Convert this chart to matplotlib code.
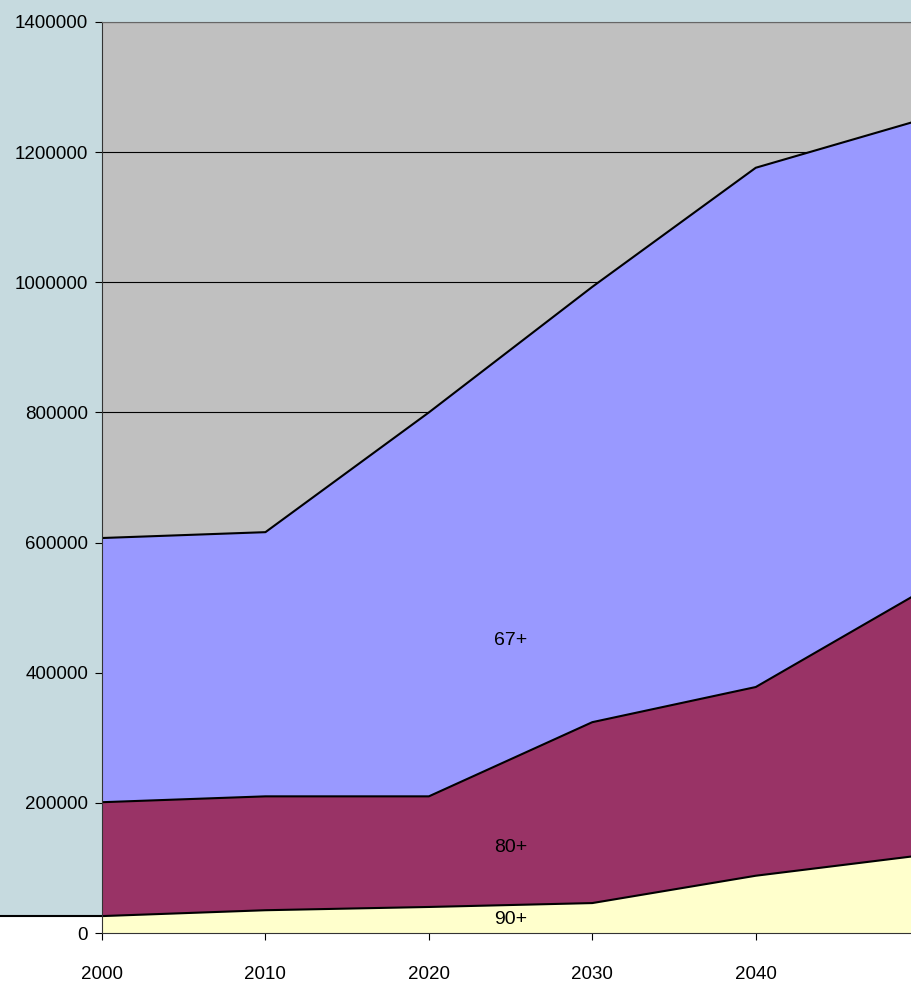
import matplotlib.pyplot as plt
from matplotlib.patches import Rectangle
from matplotlib.lines import Line2D
from matplotlib.ticker import FuncFormatter

# data
years = [2000, 2010, 2020, 2030, 2040, 2050]
age67 = [607000, 616000, 800000, 993000, 1176000, 1249000]
age80 = [201000, 210000, 210000, 324000, 378000, 523000]
age90 = [26000, 35000, 40000, 46000, 88000, 119000]
labels = ['67+', '80+', '90+']
label_y = [449000, 132000, 21000]

plt.rcParams['font.family'] = ['Liberation Sans', 'DejaVu Sans']
plt.rcParams['font.size'] = 13.5

fig = plt.figure(figsize=(9.11, 9.83), dpi=100)
fig.patch.set_facecolor('white')
bg_bottom = (983 - 916) / 983
fig.patches.append(Rectangle((0, bg_bottom), 1, 1 - bg_bottom, transform=fig.transFigure,
                             facecolor='#C6DADF', edgecolor='none', zorder=0))
fig.lines.append(Line2D([0, 0.115], [bg_bottom, bg_bottom], transform=fig.transFigure,
                        color='black', lw=1.5, zorder=1))

ax = fig.add_axes([102 / 911, 50 / 983, 1 - 102 / 911, 911 / 983])
ax.set_facecolor('#C0C0C0')
ax.set_zorder(2)

ax.fill_between(years, 0, age67, color='#9999FF', zorder=2)
ax.fill_between(years, 0, age80, color='#993366', zorder=3)
ax.fill_between(years, 0, age90, color='#FFFFCC', zorder=4)
for s in (age67, age80, age90):
    ax.plot(years, s, color='black', lw=1.5, zorder=5)

for t, y in zip(labels, label_y):
    ax.text(2025, y, t, ha='center', va='center', fontsize=14, zorder=6)

ax.set_xlim(2000, 2049.5)
ax.set_ylim(0, 1400000)
ax.set_yticks(range(0, 1400001, 200000))
ax.yaxis.set_major_formatter(FuncFormatter(lambda v, p: '%d' % v))
ax.set_xticks(years[:-1])
ax.yaxis.grid(True, color='black', lw=0.8)
ax.set_axisbelow(True)
ax.tick_params(axis='y', length=5, pad=5)
ax.tick_params(axis='x', length=5, pad=19)
ax.spines['right'].set_visible(False)
ax.spines['top'].set_color('#666666')
ax.spines['left'].set_color('#333333')
ax.spines['bottom'].set_color('#333333')
for s in ax.spines.values():
    s.set_zorder(7)

plt.savefig('out.png', dpi=100)
